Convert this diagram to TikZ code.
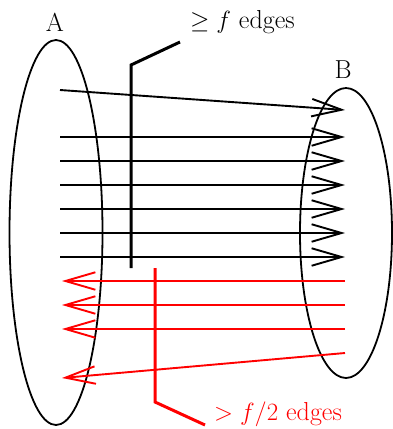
\documentclass[tikz,border=0pt]{standalone}
\usetikzlibrary{arrows.meta}
\begin{document}
\begin{tikzpicture}[x=1pt,y=-1pt,
  bigfont/.style={font=\fontsize{26}{31}\selectfont},
  edgeb/.style={line width=1.9pt,-{Straight Barb[length=30pt,width=17.5pt,line width=1.9pt]}},
  edger/.style={edgeb,red},
  cutb/.style={line width=3pt},
  setell/.style={line width=1.8pt}]
\useasboundingbox (0,0) rectangle (393,429);
% sets
\draw[setell] (56,232.5) ellipse [x radius=46.5pt, y radius=192.5pt];
\draw[setell] (346,233) ellipse [x radius=46pt, y radius=145pt];
\node[bigfont] (la) at (55,22) {A};
\node[bigfont] (lb) at (343,70) {B};
% black edges
\coordinate (s0) at (60,90);  \coordinate (t0) at (345,110);
\foreach \i/\y in {1/137,2/161,3/185,4/209,5/233,6/257}{
  \coordinate (s\i) at (60,\y); \coordinate (t\i) at (345,\y);}
\foreach \i in {0,...,6}{\draw[edgeb] (s\i) -- (t\i);}
% red edges
\foreach \i/\y in {1/281,2/305,3/329}{
  \coordinate (r\i) at (345,\y); \coordinate (q\i) at (62,\y);}
\coordinate (r4) at (345,353); \coordinate (q4) at (62,378);
\foreach \i in {1,...,4}{\draw[edger] (r\i) -- (q\i);}
% cuts
\node[bigfont,anchor=west,inner sep=0pt] (cb) at (190,22) {$\geq f$ edges};
\node[bigfont,anchor=west,inner sep=0pt,text=red] (cr) at (214,414) {$> f/2$ edges};
\coordinate (cb0) at (131,268); \coordinate (cb1) at (131,65); \coordinate (cb2) at (180,42);
\draw[cutb] (cb0) -- (cb1) -- (cb2);
\coordinate (cr0) at (155,268); \coordinate (cr1) at (155,402); \coordinate (cr2) at (205,425);
\draw[cutb,red] (cr0) -- (cr1) -- (cr2);
\end{tikzpicture}
\end{document}
